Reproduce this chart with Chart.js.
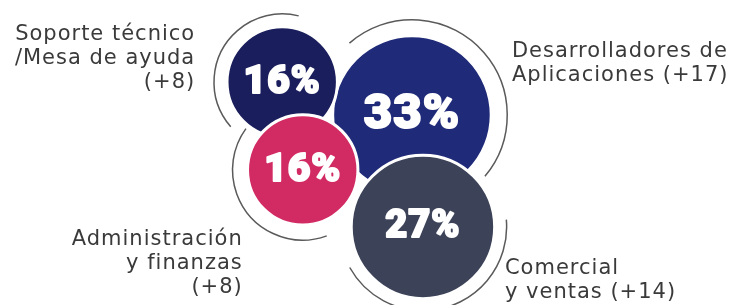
<!DOCTYPE html>
<html lang="es">
<head>
    <meta charset="UTF-8">
    <title>Perfiles más demandados</title>
    <script src="https://cdn.jsdelivr.net/npm/chart.js"></script>
    <style>
        html, body { margin: 0; padding: 0; background: #ffffff; }
        .wrap { position: relative; width: 733px; height: 305px; }
    </style>
</head>
<body>
    <div class="wrap">
        <canvas id="bubbles"></canvas>
    </div>

    <script>
        // Data (drawing order: back to front)
        const categories = [
            ['Desarrolladores de', 'Aplicaciones'],
            ['Soporte técnico', '/Mesa de ayuda'],
            ['Administración', 'y finanzas'],
            ['Comercial', 'y ventas']
        ];
        const percentages = [33, 16, 16, 27];
        const increments = [17, 8, 8, 14];
        // bubble centres in a 0-100 layout space
        const bubbleX = [56.2, 38.5, 41.3, 57.7];
        const bubbleY = [62.3, 73.1, 44.3, 25.6];

        // Styles / layout
        const fills = ['#1f2a78', '#1a1e5c', '#d22a62', '#3c4258'];
        const pctFont = [49, 39, 39, 38];
        const incOwnLine = [false, true, true, false];
        // label anchor relative to bubble centre: dx, first line dy, alignment
        const labelPos = [
            { dx: 100, dy: -63, align: 'left' },
            { dx: -87, dy: -47, align: 'right' },
            { dx: -60, dy: 70, align: 'right' },
            { dx: 82, dy: 42, align: 'left' }
        ];
        // outer ring: extra radius, start and end angle (deg, clockwise)
        const rings = [
            { gap: 16, from: 229, to: 400 },
            { gap: 13, from: 139, to: 284 },
            { gap: 15, from: 70, to: 216 },
            { gap: 12, from: -5, to: 151 }
        ];
        const radiusK = 13.8;
        const deg = Math.PI / 180;

        const bubbleDecor = {
            id: 'bubbleDecor',
            beforeDatasetsDraw(chart) {
                const ctx = chart.ctx;
                const pts = chart.getDatasetMeta(0).data;
                ctx.save();
                ctx.strokeStyle = '#5a5a5a';
                ctx.lineWidth = 1.5;
                pts.forEach((p, i) => {
                    const r = radiusK * Math.sqrt(percentages[i]) + rings[i].gap;
                    ctx.beginPath();
                    ctx.arc(p.x, p.y, r, rings[i].from * deg, rings[i].to * deg);
                    ctx.stroke();
                });
                ctx.restore();
            },
            afterDatasetsDraw(chart) {
                const ctx = chart.ctx;
                const pts = chart.getDatasetMeta(0).data;
                ctx.save();
                ctx.textBaseline = 'middle';
                pts.forEach((p, i) => {
                    // percentage (stroked as well to get the heavy look)
                    ctx.textAlign = 'center';
                    ctx.fillStyle = '#ffffff';
                    ctx.strokeStyle = '#ffffff';
                    ctx.lineWidth = 2;
                    ctx.lineJoin = 'round';
                    ctx.letterSpacing = '1px';
                    ctx.font = '900 ' + pctFont[i] + 'px Roboto, "Liberation Sans", sans-serif';
                    ctx.strokeText(percentages[i] + '%', p.x, p.y + 1);
                    ctx.fillText(percentages[i] + '%', p.x, p.y + 1);

                    // category label
                    const lines = categories[i].slice();
                    const inc = '(+' + increments[i] + ')';
                    if (incOwnLine[i]) lines.push(inc);
                    else lines[lines.length - 1] += ' ' + inc;
                    const lp = labelPos[i];
                    ctx.textAlign = lp.align;
                    ctx.fillStyle = '#3a3a3a';
                    ctx.font = '21px "DejaVu Sans", sans-serif';
                    ctx.letterSpacing = '1px';
                    lines.forEach((t, k) => {
                        ctx.fillText(t, p.x + lp.dx, p.y + lp.dy + k * 24);
                    });
                    ctx.letterSpacing = '0px';
                });
                ctx.restore();
            }
        };

        new Chart(document.getElementById('bubbles'), {
            type: 'bubble',
            data: {
                datasets: [{
                    data: percentages.map((v, i) => ({ x: bubbleX[i], y: bubbleY[i], r: radiusK * Math.sqrt(v) })),
                    backgroundColor: fills,
                    borderColor: '#ffffff',
                    borderWidth: 3,
                    hoverRadius: 0,
                    clip: false
                }]
            },
            options: {
                responsive: true,
                maintainAspectRatio: false,
                animation: false,
                events: [],
                layout: { padding: 0, autoPadding: false },
                plugins: { legend: { display: false }, tooltip: { enabled: false } },
                scales: {
                    x: { type: 'linear', min: 0, max: 100, display: false },
                    y: { type: 'linear', min: 0, max: 100, display: false }
                }
            },
            plugins: [bubbleDecor]
        });
    </script>
</body>
</html>
